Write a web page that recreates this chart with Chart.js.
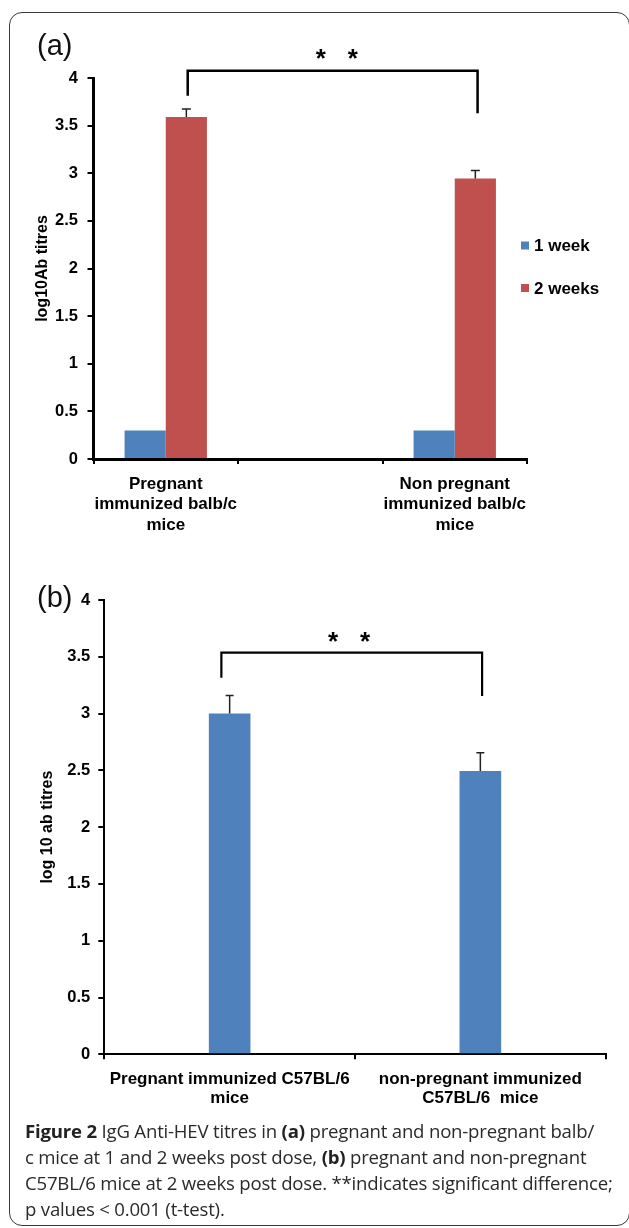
<!DOCTYPE html>
<html><head><meta charset="utf-8">
<script src="https://cdn.jsdelivr.net/npm/chart.js@4"></script>
<style>
html,body{margin:0;padding:0;background:#fff;}
#wrap{position:relative;width:629px;height:1228px;overflow:hidden;background:#fff;}
#frame{position:absolute;left:9px;top:12px;width:621px;height:1214px;border:1.5px solid #3a3a3a;border-radius:13px;box-sizing:border-box;}
canvas{position:absolute;left:0;}
#ca{top:0;}
#cb{top:560px;}
.plabel{position:absolute;font-family:"Liberation Sans",Arial,sans-serif;font-size:29px;line-height:30px;color:#111;}
#caption{position:absolute;left:25px;top:1118px;font-family:"Open Sans",sans-serif;font-size:18.6px;letter-spacing:-0.2px;line-height:26px;color:#2a2a2a;white-space:nowrap;}
#caption b{font-weight:700;color:#222;}
</style>
</head><body>
<div id="wrap">
<div id="frame"></div>
<canvas id="ca" width="629" height="560"></canvas>
<canvas id="cb" width="629" height="560"></canvas>
<div class="plabel" style="left:37px;top:30px;">(a)</div>
<div class="plabel" style="left:37px;top:582px;">(b)</div>
<div id="caption"><b>Figure 2</b> IgG Anti-HEV titres in <b>(a)</b> pregnant and non-pregnant balb/<br>c mice at 1 and 2 weeks post dose, <b>(b)</b> pregnant and non-pregnant<br>C57BL/6 mice at 2 weeks post dose. **indicates significant difference;<br>p values &lt; 0.001 (t-test).</div>
</div>
<script>
// ---------- data: panel (a) ----------
const categoriesA = [['Pregnant','immunized balb/c','mice'], '', ['Non pregnant','immunized balb/c','mice']];
const seriesNamesA = ['1 week', '2 weeks'];
const week1A = [0.3, null, 0.3];
const week2A = [3.59, null, 2.945];
const week2ErrA = [0.085, null, 0.085];
const yTicksA = ['0','0.5','1','1.5','2','2.5','3','3.5','4'];
const yTitleA = 'log10Ab titres';

// ---------- data: panel (b) ----------
const categoriesB = [['Pregnant immunized C57BL/6','mice'], ['non-pregnant immunized','C57BL/6  mice']];
const week2B = [3.0, 2.495];
const week2ErrB = [0.16, 0.16];
const yTicksB = ['0','0.5','1','1.5','2','2.5','3','3.5','4'];
const yTitleB = 'log 10 ab titres';

const BLUE = '#4F81BD', RED = '#C0504D';
const FONT = '"Liberation Sans", Arial, sans-serif';

// error bars (plus side only)
const errorBarPlugin = {
  id: 'errorBars',
  afterDatasetsDraw(chart, args, opts) {
    const ctx = chart.ctx, ys = chart.scales.y;
    chart.data.datasets.forEach((ds, di) => {
      if (!ds.errors) return;
      const meta = chart.getDatasetMeta(di);
      meta.data.forEach((el, i) => {
        const v = ds.data[i], e = ds.errors[i];
        if (v == null || !e) return;
        const yTop = ys.getPixelForValue(v + e);
        ctx.save();
        ctx.strokeStyle = opts.color; ctx.lineWidth = opts.width;
        ctx.beginPath();
        ctx.moveTo(el.x, el.y); ctx.lineTo(el.x, yTop);
        ctx.moveTo(el.x - opts.cap / 2, yTop); ctx.lineTo(el.x + opts.cap / 2, yTop);
        ctx.stroke();
        ctx.restore();
      });
    });
  }
};

// significance bracket
const bracketPlugin = {
  id: 'bracket',
  afterDraw(chart, args, o) {
    if (!o || o.x1 == null) return;
    const ctx = chart.ctx, xs = chart.scales.x, ys = chart.scales.y;
    const p0 = xs.getPixelForValue(0), step = xs.getPixelForValue(1) - p0;
    const px = v => p0 + v * step;
    const x1 = px(o.x1), x2 = px(o.x2);
    const y = ys.getPixelForValue(o.y), y1 = ys.getPixelForValue(o.y1), y2 = ys.getPixelForValue(o.y2);
    ctx.save();
    ctx.strokeStyle = '#000'; ctx.lineWidth = o.lineWidth; ctx.lineJoin = 'miter';
    ctx.beginPath();
    ctx.moveTo(x1, y1); ctx.lineTo(x1, y); ctx.lineTo(x2, y); ctx.lineTo(x2, y2);
    ctx.stroke();
    const sx = px(o.starX), sy = ys.getPixelForValue(o.starY);
    ctx.fillStyle = '#000';
    ctx.font = 'bold ' + o.starSize + 'px ' + FONT;
    ctx.textAlign = 'center'; ctx.textBaseline = 'alphabetic';
    const base = sy + o.starSize * 0.57;
    ctx.fillText('*', sx - o.starGap / 2, base);
    ctx.fillText('*', sx + o.starGap / 2, base);
    ctx.restore();
  }
};

// custom legend
const legendPlugin = {
  id: 'boxLegend',
  afterDraw(chart, args, o) {
    if (!o || o.x == null) return;
    const ctx = chart.ctx;
    ctx.save();
    ctx.font = 'bold ' + o.size + 'px ' + FONT;
    ctx.textBaseline = 'middle'; ctx.textAlign = 'left';
    chart.data.datasets.forEach((ds, i) => {
      const cy = o.y + i * o.gap;
      ctx.fillStyle = ds.backgroundColor;
      ctx.fillRect(o.x, cy - o.box / 2, o.box, o.box);
      ctx.fillStyle = '#000';
      ctx.fillText(ds.label, o.x + o.box + 5, cy + 1);
    });
    ctx.restore();
  }
};

function yScale(ticks, title, axisW, tickPad, titlePad, borderW, width) {
  return {
    min: 0, max: 4,
    ticks: { stepSize: 0.5, color: '#000', padding: tickPad, font: { family: FONT, size: 16.5, weight: 'bold' },
             callback: (v, i) => ticks[i] },
    grid: { display: true, drawOnChartArea: false, drawTicks: true, tickLength: 6, color: '#000', lineWidth: 2 },
    border: { display: true, color: '#000', width: borderW },
    title: { display: true, text: title, color: '#000', font: { family: FONT, size: 16, weight: 'bold' }, padding: { top: titlePad, bottom: 0 } },
    afterFit: s => { s.width = width; }
  };
}
function xScale(borderW, labelPad, lineH, height) {
  return {
    ticks: { color: '#000', padding: labelPad, maxRotation: 0, autoSkip: false,
             font: { family: FONT, size: 17, weight: 'bold', lineHeight: lineH } },
    grid: { display: true, offset: true, drawOnChartArea: false, drawTicks: true, tickLength: 5, color: '#000', lineWidth: 2 },
    border: { display: true, color: '#000', width: borderW },
    afterFit: s => { s.height = height; }
  };
}

new Chart(document.getElementById('ca'), {
  type: 'bar',
  data: {
    labels: categoriesA,
    datasets: [
      { label: seriesNamesA[0], data: week1A, backgroundColor: BLUE },
      { label: seriesNamesA[1], data: week2A, backgroundColor: RED, errors: week2ErrA }
    ]
  },
  options: {
    responsive: false, animation: false,
    layout: { padding: { left: 0, right: 102, top: 78, bottom: 0 } },
    datasets: { bar: { barPercentage: 1, categoryPercentage: 0.57 } },
    scales: { x: xScale(3, 10, 1.2, 101), y: yScale(yTicksA, yTitleA, 93.5, 9.5, 33.4, 3, 93.5) },
    plugins: {
      legend: { display: false }, tooltip: { enabled: false },
      errorBars: { color: '#222', width: 1.5, cap: 9 },
      bracket: { x1: 0.152, x2: 2.158, y: 4.077, y1: 3.814, y2: 3.629, lineWidth: 2.5, starX: 1.183, starY: 4.276, starSize: 26, starGap: 32 },
      boxLegend: { x: 521, y: 245.5, gap: 42.5, box: 8, size: 17 }
    }
  },
  plugins: [errorBarPlugin, bracketPlugin, legendPlugin]
});

new Chart(document.getElementById('cb'), {
  type: 'bar',
  data: {
    labels: categoriesB,
    datasets: [
      { label: '2 weeks', data: week2B, backgroundColor: BLUE, errors: week2ErrB }
    ]
  },
  options: {
    responsive: false, animation: false,
    layout: { padding: { left: 0, right: 23.3, top: 40, bottom: 0 } },
    datasets: { bar: { barPercentage: 1, categoryPercentage: 0.166 } },
    scales: { x: xScale(2, 11, 1.08, 65.7), y: yScale(yTicksB, yTitleB, 104.3, 8, 38.4, 2, 104.3) },
    plugins: {
      legend: { display: false }, tooltip: { enabled: false },
      errorBars: { color: '#222', width: 1.5, cap: 8 },
      bracket: { x1: -0.033, x2: 1.007, y: 3.536, y1: 3.316, y2: 3.154, lineWidth: 2.2, starX: 0.476, starY: 3.694, starSize: 26, starGap: 32 }
    }
  },
  plugins: [errorBarPlugin, bracketPlugin]
});
</script>
</body></html>
